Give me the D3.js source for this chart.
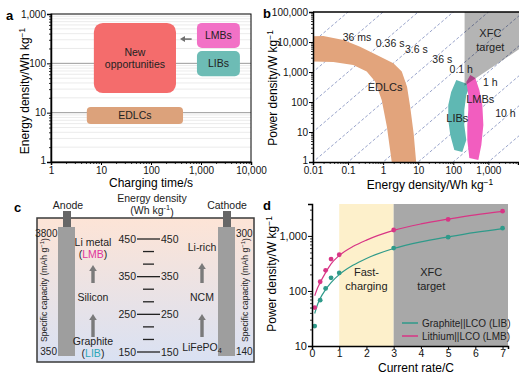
<!DOCTYPE html>
<html><head><meta charset="utf-8">
<script src="https://cdn.jsdelivr.net/npm/d3@7"></script>
<style>
body{margin:0;background:#fff;}
svg{display:block;}
</style></head><body>
<svg id="c" width="519" height="378"></svg>
<script>
// ================= DATA =================
// Panel a
const aTimeTicks = [1, 10, 100, 1000, 10000];
const aEnergyTicks = [1, 10, 100, 1000];
const aBoxLabels = [["New", "opportunities"], ["LMBs"], ["LIBs"], ["EDLCs"]];
const aBoxTime = [[7.2, 316], [830, 6000], [830, 6000], [5.2, 437]];
const aBoxEnergy = [[25, 660], [205, 660], [55, 178], [5.9, 13]];
const aArrowTime = [650, 380];
const aArrowEnergy = 310;

// Panel b
const bEnergyTicks = [0.01, 0.1, 1, 10, 100, 1000];
const bPowerTicks = [1, 10, 100, 1000, 10000, 100000];
const bLineHours = [1e-7, 1e-6, 1e-5, 1e-4, 1e-3, 1e-2, 1e-1, 1, 10, 100, 1000];
const bTimeLabels = ["36 ms", "0.36 s", "3.6 s", "36 s", "0.1 h", "1 h", "10 h"];
const bTimeLabelE = [0.18, 1.58, 8.8, 48.5, 169, 1140, 3060];
const bTimeLabelP = [14700, 9260, 5850, 2710, 1260, 464, 43];
const bEDLC = [[0.005, 15000], [0.0196, 15800], [0.074, 11700], [0.22, 6900], [0.66, 3700], [1.96, 1950],
  [3.4, 1030], [4.8, 325], [5.9, 70], [7.4, 9], [8.8, 0.9],
  [1.78, 0.9], [1.28, 15], [0.91, 117], [0.59, 480], [0.34, 1030], [0.14, 1700], [0.038, 2150], [0.005, 2300]];
const bLIB = [[122, 541], [87, 215], [72, 79], [72, 25], [82, 7.9], [107, 2.5], [181, 2.15],
  [235, 5.4], [206, 17], [206, 54], [235, 171], [306, 369]];
const bLMB = [[306, 794], [235, 464], [268, 171], [268, 54], [251, 17], [251, 5.4], [287, 1.36],
  [518, 1.17], [631, 3.7], [720, 17], [674, 79], [553, 251], [425, 631]];
const bXFC = [[210, 100000], [8000, 100000], [8000, 6000], [210, 350]];
const bRegionLabels = ["EDLCs", "LIBs", "LMBs"];
const bRegionLabelE = [1.14, 130, 590];
const bRegionLabelP = [316, 29, 126];
const bXFCLabel = ["XFC", "target"];
const bXFCLabelE = 1140;
const bXFCLabelP = [20000, 6800];

// Panel c
const cEnergyTicks = [150, 250, 350, 450];
const cEnergyMinor = [183.3, 216.7, 283.3, 316.7, 383.3, 416.7];
const cAnodeCapacity = ["3800", "350"];
const cCathodeCapacity = ["300", "140"];
const cCathodeMaterials = ["Li-rich", "NCM", "LiFePO"];

// Panel d
const dRateTicks = [0, 1, 2, 3, 4, 5, 6, 7];
const dPowerTicks = [10, 100, 1000];
const dRates = [0.1, 0.3, 0.5, 0.7, 1, 3, 5, 7];
const dLIB = [23, 68, 111, 173, 213, 600, 950, 1380];
const dLMB = [50, 147, 237, 380, 455, 1280, 1990, 2820];
const dFitRates = [0.1, 0.2, 0.3, 0.5, 0.7, 1, 1.5, 2, 3, 4, 5, 6, 7];
const dLIBFit = [39, 56, 73, 106, 142, 198, 292, 390, 590, 780, 960, 1160, 1360];
const dLMBFit = [82, 112, 142, 215, 310, 440, 640, 840, 1260, 1650, 2020, 2420, 2800];
const dBands = [[1, 3], [3, 7.2]];
const dBandLabels = [["Fast-", "charging"], ["XFC", "target"]];
const dSeriesNames = ["Graphite||LCO (LIB)", "Lithium||LCO (LMB)"];

// ================= STYLE =================
const FONT = '"Liberation Sans", Arial, Helvetica, sans-serif';
const COL = {
  newopp: "#f46c6c", lmbA: "#f271c6", libA: "#6dbcb5", edlcA: "#dca27b",
  edlcB: "#e2a47c", libB: "#5fb8b3", lmbB: "#f25dbf", xfcB: "#b4b4b4",
  dash: "#7d8cbd", libD: "#2f9a8a", lmbD: "#d83585", yellow: "#fdf0cb", greyD: "#a8a8a8"
};

const svg = d3.select("#c").attr("font-family", FONT);
svg.append("rect").attr("width", 519).attr("height", 378).attr("fill", "#fff");

function logMinor(lo, hi) {
  const out = [];
  for (let e = Math.floor(Math.log10(lo)); e <= Math.ceil(Math.log10(hi)); e++)
    for (let k = 2; k <= 9; k++) { const v = k * Math.pow(10, e); if (v > lo * 1.0001 && v < hi * 0.9999) out.push(v); }
  return out;
}
const fmt = d3.format(",");
function drawAxis(g, axis, fs) {
  g.call(axis);
  g.attr("font-family", FONT).attr("font-size", fs);
  g.select(".domain").attr("stroke", "#000").attr("stroke-width", 1.5);
  g.selectAll(".tick line").attr("stroke", "#000").attr("stroke-width", 1);
  g.selectAll(".tick text").attr("fill", "#111");
  return g;
}
function minorAxis(g, axis) {
  g.call(axis.tickFormat("").tickSize(2));
  g.select(".domain").remove();
  g.selectAll(".tick line").attr("stroke", "#000").attr("stroke-width", 0.8);
}
function supLabel(t, main, sup) {
  t.text(main);
  t.append("tspan").attr("dy", "-0.5em").attr("font-size", "0.7em").text(sup);
}
function panelLabel(x, y, s) {
  svg.append("text").attr("x", x).attr("y", y).attr("font-size", 13).attr("font-weight", "bold").text(s);
}
function liftBottomLabel(g) {
  g.selectAll(".tick text").filter((d, i, n) => i === 0).attr("dy", "0.15em");
}

// ================= PANEL A =================
{
  const x = d3.scaleLog().domain([1, 10000]).range([51, 251]);
  const y = d3.scaleLog().domain([1, 1000]).range([162, 14]);
  const g = svg.append("g");
  g.selectAll("line.mg").data(logMinor(1, 1000)).join("line")
    .attr("x1", 51).attr("x2", 251).attr("y1", d => y(d)).attr("y2", d => y(d))
    .attr("stroke", "#e6e6e6").attr("stroke-width", 0.8);
  g.selectAll("line.Mg").data(aEnergyTicks.slice(1, 3)).join("line")
    .attr("x1", 51).attr("x2", 251).attr("y1", d => y(d)).attr("y2", d => y(d))
    .attr("stroke", "#9a9a9a").attr("stroke-width", 1);
  const cols = [COL.newopp, COL.lmbA, COL.libA, COL.edlcA];
  const radii = [9, 5, 5, 4];
  aBoxLabels.forEach((lab, i) => {
    const x0 = x(aBoxTime[i][0]), x1 = x(aBoxTime[i][1]);
    const y0 = y(aBoxEnergy[i][1]), y1 = y(aBoxEnergy[i][0]);
    g.append("rect").attr("x", x0).attr("y", y0).attr("width", x1 - x0).attr("height", y1 - y0)
      .attr("rx", radii[i]).attr("fill", cols[i]);
    const cx = (x0 + x1) / 2, cy = (y0 + y1) / 2;
    lab.forEach((s, j) => {
      g.append("text").attr("x", cx).attr("y", cy + (j - (lab.length - 1) / 2) * 12)
        .attr("dy", "0.35em").attr("text-anchor", "middle").attr("font-size", 10.5).attr("fill", "#222").text(s);
    });
  });
  const ax0 = x(aArrowTime[0]), ax1 = x(aArrowTime[1]), ay0 = y(aArrowEnergy);
  g.append("line").attr("x1", ax0).attr("x2", ax1 + 4).attr("y1", ay0).attr("y2", ay0).attr("stroke", "#707070").attr("stroke-width", 1.6);
  g.append("path").attr("d", `M${ax1},${ay0} l5,-3 l0,6 z`).attr("fill", "#707070");
  g.append("rect").attr("x", 51).attr("y", 14).attr("width", 200).attr("height", 148)
    .attr("fill", "none").attr("stroke", "#000").attr("stroke-width", 1);
  drawAxis(g.append("g").attr("transform", "translate(0,162)"),
    d3.axisBottom(x).tickValues(aTimeTicks).tickFormat(fmt).tickSize(3).tickPadding(2), 10);
  minorAxis(g.append("g").attr("transform", "translate(0,162)"), d3.axisBottom(x).tickValues(logMinor(1, 10000)));
  liftBottomLabel(drawAxis(g.append("g").attr("transform", "translate(51,0)"),
    d3.axisLeft(y).tickValues(aEnergyTicks).tickFormat(fmt).tickSize(4).tickPadding(1), 10));
  minorAxis(g.append("g").attr("transform", "translate(51,0)"), d3.axisLeft(y).tickValues(logMinor(1, 1000)));
  g.append("text").attr("x", 151).attr("y", 187).attr("text-anchor", "middle").attr("font-size", 12).text("Charging time/s");
  supLabel(g.append("text").attr("transform", "translate(29,91) rotate(-90)").attr("text-anchor", "middle").attr("font-size", 12),
    "Energy density/Wh kg", "−1");
  panelLabel(6, 20, "a");
}

// ================= PANEL B =================
{
  const x = d3.scaleLog().domain([0.01, 7000]).range([313, 518]);
  const y = d3.scaleLog().domain([1, 100000]).range([162, 12]);
  const g = svg.append("g");
  svg.append("defs").append("clipPath").attr("id", "clipb").append("rect")
    .attr("x", 313).attr("y", 12).attr("width", 206).attr("height", 150);
  const inner = g.append("g").attr("clip-path", "url(#clipb)");
  inner.selectAll("line.t").data(bLineHours).join("line")
    .attr("x1", d => x(1e-3)).attr("y1", d => y(1e-3 / d))
    .attr("x2", d => x(1e5)).attr("y2", d => y(1e5 / d))
    .attr("stroke", COL.dash).attr("stroke-width", 0.8).attr("stroke-dasharray", "3,2");
  const line = d3.line().x(d => x(d[0])).y(d => y(d[1])).curve(d3.curveLinearClosed);
  inner.append("path").attr("d", line(bEDLC)).attr("fill", COL.edlcB);
  inner.append("path").attr("d", line(bLIB)).attr("fill", COL.libB);
  inner.append("path").attr("d", line(bLMB)).attr("fill", COL.lmbB);
  inner.append("path").attr("d", line(bXFC)).attr("fill", COL.xfcB).style("mix-blend-mode", "multiply");
  bTimeLabels.forEach((s, i) => {
    g.append("text").attr("x", x(bTimeLabelE[i])).attr("y", y(bTimeLabelP[i])).attr("dy", "0.35em")
      .attr("text-anchor", "middle").attr("font-size", 10.5).attr("fill", "#222").text(s);
  });
  bRegionLabels.forEach((s, i) => {
    g.append("text").attr("x", x(bRegionLabelE[i])).attr("y", y(bRegionLabelP[i])).attr("dy", "0.35em")
      .attr("text-anchor", "middle").attr("font-size", 11).attr("fill", "#222").text(s);
  });
  bXFCLabel.forEach((s, i) => {
    g.append("text").attr("x", x(bXFCLabelE)).attr("y", y(bXFCLabelP[i])).attr("dy", "0.35em")
      .attr("text-anchor", "middle").attr("font-size", 11).attr("fill", "#222").text(s);
  });
  g.append("line").attr("x1", 313).attr("x2", 519).attr("y1", 12).attr("y2", 12).attr("stroke", "#000").attr("stroke-width", 1.5);
  drawAxis(g.append("g").attr("transform", "translate(0,162)"),
    d3.axisBottom(x).tickValues(bEnergyTicks).tickFormat(fmt).tickSize(3).tickPadding(2), 10);
  minorAxis(g.append("g").attr("transform", "translate(0,162)"), d3.axisBottom(x).tickValues(logMinor(0.01, 7000)));
  liftBottomLabel(drawAxis(g.append("g").attr("transform", "translate(313,0)"),
    d3.axisLeft(y).tickValues(bPowerTicks).tickFormat(fmt).tickSize(4).tickPadding(1), 10));
  minorAxis(g.append("g").attr("transform", "translate(313,0)"), d3.axisLeft(y).tickValues(logMinor(1, 100000)));
  supLabel(g.append("text").attr("x", 430).attr("y", 189).attr("text-anchor", "middle").attr("font-size", 12),
    "Energy density/Wh kg", "−1");
  supLabel(g.append("text").attr("transform", "translate(277,88) rotate(-90)").attr("text-anchor", "middle").attr("font-size", 12),
    "Power density/W kg", "−1");
  panelLabel(263, 18, "b");
}

// ================= PANEL C =================
{
  const g = svg.append("g").attr("font-size", 10.5).attr("fill", "#222");
  const defs = svg.append("defs");
  const gr = defs.append("linearGradient").attr("id", "cgrad").attr("x1", 0).attr("x2", 0).attr("y1", 0).attr("y2", 1);
  gr.append("stop").attr("offset", "0%").attr("stop-color", "#fde4d6");
  gr.append("stop").attr("offset", "100%").attr("stop-color", "#d9e1f3");
  g.append("rect").attr("x", 37).attr("y", 218).attr("width", 217).attr("height", 144)
    .attr("fill", "url(#cgrad)").attr("stroke", "#3a3a3a").attr("stroke-width", 1.5);
  [[58, 68, "Anode"], [218, 227, "Cathode"]].forEach(([ex, cx, name]) => {
    g.append("rect").attr("x", ex + 5).attr("y", 211).attr("width", 8).attr("height", 17).attr("fill", "#666");
    g.append("rect").attr("x", ex).attr("y", 227).attr("width", 17).attr("height", 129).attr("fill", "#9e9e9e");
    g.append("text").attr("x", cx).attr("y", 209).attr("text-anchor", "middle").text(name);
  });
  g.append("text").attr("x", 57.5).attr("y", 236.5).attr("text-anchor", "end").attr("font-size", 10).text(cAnodeCapacity[0]);
  g.append("text").attr("x", 57).attr("y", 355).attr("text-anchor", "end").attr("font-size", 10).text(cAnodeCapacity[1]);
  g.append("text").attr("x", 236).attr("y", 236.5).attr("font-size", 10).text(cCathodeCapacity[0]);
  g.append("text").attr("x", 236).attr("y", 355).attr("font-size", 10).text(cCathodeCapacity[1]);
  [46.5, 248].forEach(vx => {
    const t = g.append("text").attr("transform", `translate(${vx},290) rotate(-90)`).attr("text-anchor", "middle").attr("font-size", 8.6);
    supLabel(t, "Specific capacity (mAh g", "−1");
    t.append("tspan").attr("dy", "0.5em").text(")");
  });
  const ys = d3.scaleLinear().domain([150, 450]).range([352, 239]);
  g.append("text").attr("x", 152).attr("y", 202).attr("text-anchor", "middle").text("Energy density");
  const et = g.append("text").attr("x", 152).attr("y", 214).attr("text-anchor", "middle");
  et.text("(Wh kg");
  et.append("tspan").attr("dy", "-0.5em").attr("font-size", "0.7em").text("-1");
  et.append("tspan").attr("dy", "0.5em").text(")");
  cEnergyTicks.forEach(v => {
    g.append("line").attr("x1", 137).attr("x2", 160).attr("y1", ys(v)).attr("y2", ys(v)).attr("stroke", "#222").attr("stroke-width", 1.3);
    g.append("text").attr("x", 136).attr("y", ys(v)).attr("dy", "0.35em").attr("text-anchor", "end").text(v);
    g.append("text").attr("x", 161).attr("y", ys(v)).attr("dy", "0.35em").text(v);
  });
  cEnergyMinor.forEach(v => {
    g.append("line").attr("x1", 143).attr("x2", 154).attr("y1", ys(v)).attr("y2", ys(v)).attr("stroke", "#222").attr("stroke-width", 1.3);
  });
  function upArrow(cx, yb, yt) {
    g.append("rect").attr("x", cx - 1.7).attr("y", yt + 5).attr("width", 3.4).attr("height", yb - yt - 5).attr("fill", "#7a7a7a");
    g.append("path").attr("d", `M${cx},${yt} l-3.8,6 l7.6,0 z`).attr("fill", "#7a7a7a");
  }
  upArrow(93, 283, 265); upArrow(93, 337, 314);
  upArrow(202, 283, 263); upArrow(202, 337, 314);
  g.append("text").attr("x", 93).attr("y", 246).attr("text-anchor", "middle").text("Li metal");
  const lmb = g.append("text").attr("x", 93).attr("y", 258).attr("text-anchor", "middle");
  lmb.append("tspan").text("(");
  lmb.append("tspan").attr("fill", "#e0359c").text("LMB");
  lmb.append("tspan").text(")");
  g.append("text").attr("x", 93).attr("y", 301).attr("text-anchor", "middle").text("Silicon");
  g.append("text").attr("x", 93).attr("y", 345).attr("text-anchor", "middle").text("Graphite");
  const lib = g.append("text").attr("x", 93).attr("y", 357).attr("text-anchor", "middle");
  lib.append("tspan").text("(");
  lib.append("tspan").attr("fill", "#2aa6b8").text("LIB");
  lib.append("tspan").text(")");
  g.append("text").attr("x", 202).attr("y", 251).attr("text-anchor", "middle").text(cCathodeMaterials[0]);
  g.append("text").attr("x", 202).attr("y", 301).attr("text-anchor", "middle").text(cCathodeMaterials[1]);
  const lfp = g.append("text").attr("x", 202).attr("y", 351).attr("text-anchor", "middle");
  lfp.text(cCathodeMaterials[2]);
  lfp.append("tspan").attr("dy", "0.3em").attr("font-size", "0.7em").text("4");
  panelLabel(14, 212, "c");
}

// ================= PANEL D =================
{
  const x = d3.scaleLinear().domain([0, 7.2]).range([312, 508]);
  const y = d3.scaleLog().domain([10, 3800]).range([346, 204]);
  const g = svg.append("g");
  const bandCols = [COL.yellow, COL.greyD];
  dBands.forEach((b, i) => {
    g.append("rect").attr("x", x(b[0])).attr("y", 204).attr("width", x(b[1]) - x(b[0])).attr("height", 142).attr("fill", bandCols[i]);
    dBandLabels[i].forEach((s, j) => {
      g.append("text").attr("x", (x(b[0]) + x(Math.min(b[1], 6.2))) / 2 - (i ? 6 : 0)).attr("y", 276 + j * 14)
        .attr("text-anchor", "middle").attr("font-size", 11).attr("fill", "#222").text(s);
    });
  });
  const ln = d3.line().x((d, i) => x(dFitRates[i])).y(d => y(d)).curve(d3.curveMonotoneX);
  g.append("path").attr("d", ln(dLIBFit)).attr("fill", "none").attr("stroke", COL.libD).attr("stroke-width", 1.2);
  g.append("path").attr("d", ln(dLMBFit)).attr("fill", "none").attr("stroke", COL.lmbD).attr("stroke-width", 1.2);
  g.selectAll("circle.l").data(dLIB).join("circle").attr("cx", (d, i) => x(dRates[i])).attr("cy", d => y(d)).attr("r", 2.4).attr("fill", COL.libD);
  g.selectAll("circle.m").data(dLMB).join("circle").attr("cx", (d, i) => x(dRates[i])).attr("cy", d => y(d)).attr("r", 2.4).attr("fill", COL.lmbD);
  [COL.libD, COL.lmbD].forEach((c, i) => {
    g.append("line").attr("x1", 402).attr("x2", 418).attr("y1", 323 + i * 13).attr("y2", 323 + i * 13).attr("stroke", c).attr("stroke-width", 1.5);
    g.append("text").attr("x", 422).attr("y", 323 + i * 13).attr("dy", "0.35em").attr("font-size", 10).attr("fill", "#222").text(dSeriesNames[i]);
  });
  drawAxis(g.append("g").attr("transform", "translate(0,346)"),
    d3.axisBottom(x).tickValues(dRateTicks).tickFormat(d3.format("d")).tickSize(3).tickPadding(1), 10.5);
  drawAxis(g.append("g").attr("transform", "translate(312,0)"),
    d3.axisLeft(y).tickValues(dPowerTicks).tickFormat(fmt).tickSize(4).tickPadding(1), 11);
  minorAxis(g.append("g").attr("transform", "translate(312,0)"), d3.axisLeft(y).tickValues(logMinor(10, 3800)));
  g.append("text").attr("x", 416).attr("y", 372).attr("text-anchor", "middle").attr("font-size", 12).text("Current rate/C");
  supLabel(g.append("text").attr("transform", "translate(276,274) rotate(-90)").attr("text-anchor", "middle").attr("font-size", 12),
    "Power density/W kg", "−1");
  panelLabel(263, 210, "d");
}
</script></body></html>
